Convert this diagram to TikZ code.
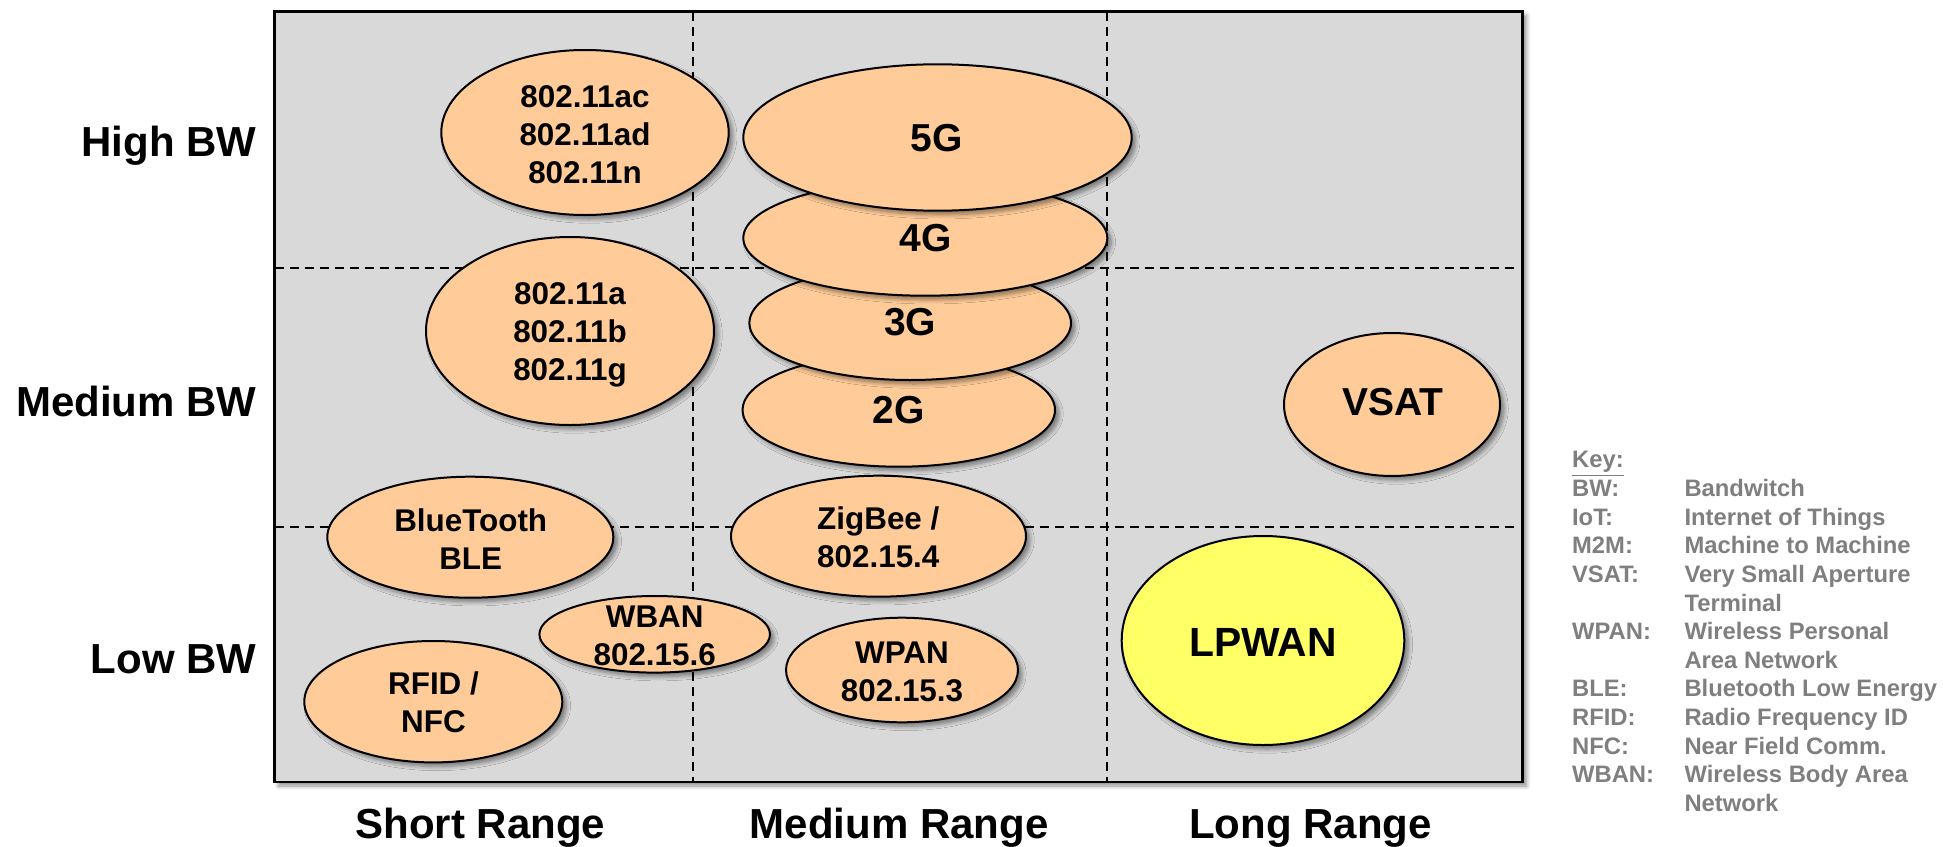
\documentclass[tikz,border=0pt]{standalone}
\usepackage{fontspec}
\setmainfont{Liberation Sans}
\usetikzlibrary{shapes.geometric,shadows.blur}
\definecolor{peach}{HTML}{FFCC99}
\definecolor{lpyellow}{HTML}{FFFF66}
\definecolor{panelgray}{HTML}{D9D9D9}
\definecolor{keygray}{HTML}{7F7F7F}
\tikzset{
  softshadow/.style={blur shadow={shadow xshift=2pt, shadow yshift=-2pt, shadow blur steps=6, shadow opacity=45}},
  ell/.style={ellipse, draw=black, line width=1pt, fill=peach, inner sep=0pt, softshadow},
  ellsz/.style 2 args={minimum width=#1pt, minimum height=#2pt},
  etext/.style={font=\fontsize{15.7}{19}\selectfont\bfseries, align=center, inner sep=0pt},
  bigtext/.style={font=\fontsize{19.5}{23}\selectfont\bfseries, inner sep=0pt},
  axislabel/.style={font=\fontsize{21}{25}\selectfont\bfseries, inner sep=0pt},
  gridline/.style={dash pattern=on 4.5pt off 3pt, line width=0.95pt},
}
\begin{document}
\begin{tikzpicture}[x=0.5pt,y=-0.5pt]
\useasboundingbox (0,0) rectangle (1943,846);
% panel
\path[draw=black, line width=1.1pt, fill=panelgray, softshadow] (274.5,11.5) rectangle (1522.5,782);
\draw[gridline] (692.7,11.5) -- (692.7,782);
\draw[gridline] (1106.7,11.5) -- (1106.7,782);
\draw[gridline] (274.5,268) -- (1515,268);
\draw[gridline] (274.5,527.3) -- (1515,527.3);
% ellipses
\node[ell, ellsz={143.7}{82.5}] (ac) at (585,132.5) {};
\node[etext] (ac-t) at (585,135) {802.11ac\\802.11ad\\802.11n};
\node[ell, ellsz={144}{94}] (abg) at (570,331) {};
\node[etext] (abg-t) at (570,334.6) {802.11a\\802.11b\\802.11g};
\node[ell, ellsz={156.2}{56.7}] (g2) at (898.8,410) {};
\node[bigtext] (g2-t) at (898.7,410) {2G};
\node[ell, ellsz={160.8}{57}] (g3) at (910.2,323) {};
\node[bigtext] (g3-t) at (910.2,321.7) {3G};
\node[ell, ellsz={182}{57.7}] (g4) at (925.3,238) {};
\node[bigtext] (g4-t) at (925.8,238) {4G};
\node[ell, ellsz={194.2}{73.2}] (g5) at (937.5,137.5) {};
\node[bigtext] (g5-t) at (936.8,138.3) {5G};
\node[ell, ellsz={108}{71.5}] (vsat) at (1392,404.5) {};
\node[bigtext] (vsat-t) at (1392.8,401.7) {VSAT};
\node[ell, ellsz={141.3}{104.5}, fill=lpyellow] (lpwan) at (1263,640.5) {};
\node[bigtext, font=\fontsize{20.4}{24}\selectfont\bfseries] (lpwan-t) at (1263,642) {LPWAN};
\node[ell, ellsz={143}{60.5}] (bt) at (470.3,537.2) {};
\node[etext] (bt-t) at (470.7,538.7) {BlueTooth\\BLE};
\node[ell, ellsz={147.5}{60.5}] (zb) at (878.5,536.2) {};
\node[etext] (zb-t) at (878.3,537.5) {ZigBee /\\802.15.4};
\node[ell, ellsz={115.3}{38.3}] (wban) at (654.7,634.3) {};
\node[etext] (wban-t) at (654.7,635.5) {WBAN\\802.15.6};
\node[ell, ellsz={116}{52.3}] (wpan) at (902,670) {};
\node[etext] (wpan-t) at (902,672.2) {WPAN\\802.15.3};
\node[ell, ellsz={129}{60.7}] (rfid) at (433.3,701.7) {};
\node[etext] (rfid-t) at (433.5,702.5) {RFID /\\NFC};
% axis labels
\node[axislabel, anchor=base east] (hibw) at (257,156) {High BW};
\node[axislabel, anchor=base east] (medbw) at (257,416.7) {Medium BW};
\node[axislabel, anchor=base east] (lowbw) at (257,673.3) {Low BW};
\node[axislabel, anchor=base] (short) at (480.3,838.3) {Short Range};
\node[axislabel, anchor=base] (medium) at (899.3,838.3) {Medium Range};
\node[axislabel, anchor=base] (long) at (1310.5,838.3) {Long Range};
% key
\node[anchor=base west, inner sep=0pt, text=keygray, font=\fontsize{11.9}{14.3}\selectfont\bfseries] (key) at (1571.7,467.8) {%
\begin{tabular}[t]{@{}p{56.2pt}@{}l@{}}
\bfseries\underline{Key:} & \\
\bfseries BW: & \bfseries Bandwitch\\
\bfseries IoT: & \bfseries Internet of Things\\
\bfseries M2M: & \bfseries Machine to Machine\\
\bfseries VSAT: & \bfseries Very Small Aperture\\
 & \bfseries Terminal\\
\bfseries WPAN: & \bfseries Wireless Personal\\
 & \bfseries Area Network\\
\bfseries BLE: & \bfseries Bluetooth Low Energy\\
\bfseries RFID: & \bfseries Radio Frequency ID\\
\bfseries NFC: & \bfseries Near Field Comm.\\
\bfseries WBAN: & \bfseries Wireless Body Area\\
 & \bfseries Network
\end{tabular}};
\end{tikzpicture}
\end{document}
